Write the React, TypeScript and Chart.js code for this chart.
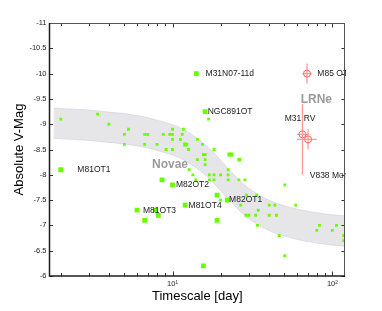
import { useEffect, useRef } from 'react';
import { Chart, registerables } from 'chart.js';

Chart.register(...registerables);

// ---- Data ----
// Novae band (MMRD-like relation), edges in absolute V magnitude
const bandT = [1.8, 2, 3, 4, 5, 6, 7, 8, 10, 12, 14, 16, 18, 20, 22, 25, 28, 32, 40, 50, 65, 80, 100, 130];
const bandUpper = [-9.32, -9.31, -9.28, -9.24, -9.21, -9.17, -9.13, -9.08, -8.99, -8.88, -8.74, -8.6, -8.44, -8.29, -8.14, -7.96, -7.81, -7.67, -7.5, -7.39, -7.3, -7.25, -7.21, -7.18];
const bandLower = [-8.72, -8.71, -8.68, -8.64, -8.61, -8.57, -8.53, -8.48, -8.39, -8.28, -8.14, -8.0, -7.84, -7.69, -7.54, -7.36, -7.21, -7.07, -6.9, -6.79, -6.7, -6.65, -6.61, -6.58];

// Novae (small green points)
const novaeT = [2.0, 3.4, 4.0, 5.3, 5.0, 5.0, 6.7, 7.0, 6.7, 8.0, 8.75, 9.1, 9.6, 10, 10, 10, 10, 11.2, 11.7, 11.5, 12.3, 12.6,
  16.8, 14.3, 15.4, 18.2, 15.6, 16.0, 14.3, 16.0, 16.0, 12.7, 13.4, 17, 18.2, 20, 17, 18.2, 14, 22.3, 22.3, 22.3, 26, 28.4,
  20, 26.7, 29, 33.6, 28.8, 30, 33.1, 34.4, 40.3, 43.7, 40.3, 44.7, 34, 46.5, 50.4, 59, 50.4, 80, 83, 100, 106, 117.6, 117.6];
const novaeMag = [-9.1, -9.2, -9.0, -8.9, -8.8, -8.6, -8.8, -8.8, -8.6, -8.6, -8.8, -8.5, -8.8, -8.8, -8.9, -8.7, -8.5, -8.7, -8.9, -8.8, -8.6, -8.5,
  -9.1, -8.7, -8.6, -8.5, -8.4, -8.4, -8.3, -8.3, -8.2, -8.1, -8.0, -8.0, -8.0, -8.0, -7.9, -7.9, -7.9, -8.1, -8.0, -7.9, -7.9, -7.9,
  -7.5, -7.4, -7.6, -7.6, -7.2, -7.2, -7.2, -7.3, -7.4, -7.4, -7.2, -7.2, -7.0, -6.8, -7.8, -7.4, -6.4, -6.9, -7.0, -6.9, -7.0, -6.8, -6.7];

// Medium squares
const mediumT = [12.0, 22.7, 23.4, 26.2];
const mediumMag = [-8.6, -8.4, -8.4, -8.3];

// Optical transients (big squares)
const transientT = [14.1, 16.0, 2.0, 8.6, 10, 12, 6.0, 7.8, 6.7, 8.15, 19, 22, 19, 15.6];
const transientMag = [-10.0, -9.25, -8.1, -7.9, -7.8, -7.4, -7.3, -7.3, -7.1, -7.2, -7.6, -7.5, -7.1, -6.2];

// LRNe with error bars
const lrneT = [69.4, 65, 70.5];
const lrneMag = [-10.0, -8.8, -8.7];
const lrneTLo = [65, 60, 60];
const lrneTHi = [74.5, 70.5, 80];
const lrneMagLo = [-10.2, -9.4, -8.9];
const lrneMagHi = [-9.8, -8.0, -8.5];

// Text labels (left edge position in data coords)
const labelText = ['M31N07-11d', 'NGC891OT', 'M81OT1', 'M82OT2', 'M81OT3', 'M81OT4', 'M82OT1', 'M85 OT', 'M31 RV', 'V838 Mon'];
const labelT = [16.1, 16.6, 2.54, 10.5, 6.54, 12.6, 22.6, 80.6, 50.4, 72.2];
const labelMag = [-10.0, -9.25, -8.1, -7.8, -7.3, -7.4, -7.5, -10.0, -9.1, -7.98];

const groupText = ['Novae', 'LRNe'];
const groupT = [7.44, 63.4];
const groupMag = [-8.19, -9.49];

const xTickValues = [2, 3, 4, 5, 6, 7, 8, 9, 10, 20, 30, 40, 50, 60, 70, 80, 90, 100];

const FONT = '"Liberation Sans", Arial, Helvetica, sans-serif';

const isPow10 = (v: number) => Math.abs(Math.log10(v) - Math.round(Math.log10(v))) < 1e-9;

const framePlugin = {
  id: 'frame',
  afterDraw(chart: any) {
    const { ctx, chartArea: a, scales } = chart;
    const x = scales.x;
    const y = scales.y;
    ctx.save();
    ctx.strokeStyle = '#333';
    ctx.lineWidth = 1;
    ctx.beginPath();
    for (const t of x.ticks) {
      const px = Math.round(x.getPixelForValue(t.value)) + 0.5;
      const len = isPow10(t.value) ? 4.5 : 3;
      ctx.moveTo(px, a.bottom);
      ctx.lineTo(px, a.bottom - len);
      ctx.moveTo(px, a.top);
      ctx.lineTo(px, a.top + len);
    }
    for (const t of y.ticks) {
      const py = Math.round(y.getPixelForValue(t.value)) + 0.5;
      ctx.moveTo(a.left, py);
      ctx.lineTo(a.left + 3.5, py);
      ctx.moveTo(a.right, py);
      ctx.lineTo(a.right - 3.5, py);
    }
    ctx.stroke();
    // top & right
    ctx.strokeStyle = '#555';
    ctx.lineWidth = 1;
    ctx.beginPath();
    ctx.moveTo(a.left, a.top + 0.5);
    ctx.lineTo(a.right, a.top + 0.5);
    ctx.moveTo(a.right - 0.5, a.top);
    ctx.lineTo(a.right - 0.5, a.bottom);
    ctx.stroke();
    // left & bottom
    ctx.strokeStyle = '#1e1e1e';
    ctx.lineWidth = 1.5;
    ctx.beginPath();
    ctx.moveTo(a.left, a.top);
    ctx.lineTo(a.left, a.bottom);
    ctx.lineTo(a.right, a.bottom);
    ctx.stroke();
    ctx.restore();
  },
};

const errorBarPlugin = {
  id: 'errorBars',
  afterDatasetsDraw(chart: any) {
    const { ctx, scales } = chart;
    const x = scales.x;
    const y = scales.y;
    ctx.save();
    ctx.strokeStyle = 'rgba(255,120,120,0.75)';
    ctx.lineWidth = 1.3;
    ctx.beginPath();
    for (let i = 0; i < lrneT.length; i++) {
      const cx = x.getPixelForValue(lrneT[i]);
      const cy = y.getPixelForValue(lrneMag[i]);
      ctx.moveTo(x.getPixelForValue(lrneTLo[i]), cy);
      ctx.lineTo(x.getPixelForValue(lrneTHi[i]), cy);
      ctx.moveTo(cx, y.getPixelForValue(lrneMagLo[i]));
      ctx.lineTo(cx, y.getPixelForValue(lrneMagHi[i]));
    }
    ctx.stroke();
    ctx.restore();
  },
};

const labelPlugin = {
  id: 'labels',
  afterDraw(chart: any) {
    const { ctx, chartArea: a, scales } = chart;
    const x = scales.x;
    const y = scales.y;
    ctx.save();
    ctx.beginPath();
    ctx.rect(a.left, a.top, a.right - a.left + 1, a.bottom - a.top);
    ctx.clip();
    ctx.textAlign = 'left';
    ctx.textBaseline = 'middle';
    ctx.fillStyle = '#1a1a1a';
    ctx.font = `8.5px ${FONT}`;
    for (let i = 0; i < labelText.length; i++) {
      ctx.fillText(labelText[i], x.getPixelForValue(labelT[i]), y.getPixelForValue(labelMag[i]));
    }
    ctx.fillStyle = '#9a9a9a';
    ctx.font = `bold 12px ${FONT}`;
    for (let i = 0; i < groupText.length; i++) {
      ctx.fillText(groupText[i], x.getPixelForValue(groupT[i]), y.getPixelForValue(groupMag[i]));
    }
    ctx.restore();
  },
};

export default function App() {
  const ref = useRef<HTMLCanvasElement>(null);

  useEffect(() => {
    const canvas = ref.current;
    if (!canvas) return;
    const pts = (xs: number[], ys: number[]) => xs.map((v, i) => ({ x: v, y: ys[i] }));
    const green = '#66ff00';
    const chart = new Chart(canvas, {
      type: 'scatter',
      data: {
        datasets: [
          {
            type: 'line',
            label: 'band upper',
            data: pts(bandT, bandUpper),
            borderColor: 'rgba(205,205,230,0.7)',
            borderWidth: 0.8,
            pointRadius: 0,
            fill: false,
            showLine: true,
            cubicInterpolationMode: 'monotone',
            order: 10,
          } as any,
          {
            type: 'line',
            label: 'band lower',
            data: pts(bandT, bandLower),
            borderColor: 'rgba(205,205,230,0.7)',
            borderWidth: 0.8,
            backgroundColor: '#e6e6e8',
            pointRadius: 0,
            fill: '-1',
            showLine: true,
            cubicInterpolationMode: 'monotone',
            order: 10,
          } as any,
          {
            label: 'Novae',
            data: pts(novaeT, novaeMag),
            pointStyle: 'rect',
            pointRadius: 2.0,
            backgroundColor: green,
            borderWidth: 0,
            order: 2,
          },
          {
            label: 'Medium',
            data: pts(mediumT, mediumMag),
            pointStyle: 'rect',
            pointRadius: 2.8,
            backgroundColor: green,
            borderWidth: 0,
            order: 2,
          },
          {
            label: 'Transients',
            data: pts(transientT, transientMag),
            pointStyle: 'rect',
            pointRadius: 3.4,
            backgroundColor: green,
            borderWidth: 0,
            order: 1,
          },
          {
            label: 'LRNe',
            data: pts(lrneT, lrneMag),
            pointStyle: 'circle',
            pointRadius: 3.5,
            backgroundColor: 'rgba(0,0,0,0)',
            borderColor: 'rgba(255,70,70,0.85)',
            borderWidth: 1,
            order: 0,
          },
        ],
      },
      options: {
        animation: false,
        responsive: false,
        devicePixelRatio: 1,
        layout: { padding: { top: 23, right: 37, left: 0, bottom: 0 } },
        plugins: {
          legend: { display: false },
          tooltip: { enabled: false },
        },
        scales: {
          x: {
            type: 'logarithmic',
            min: 1.7,
            max: 120,
            grid: { display: false, drawTicks: false },
            border: { display: false },
            afterBuildTicks: (s: any) => {
              s.ticks = xTickValues.map((v) => ({ value: v }));
            },
            afterFit: (s: any) => {
              s.height = 35;
            },
            ticks: {
              autoSkip: false,
              maxRotation: 0,
              padding: 3,
              color: '#222',
              font: { size: 7.5, family: FONT },
              callback: (v: any) => (v === 10 ? '10\u00B9' : v === 100 ? '10\u00B2' : ''),
            },
            title: {
              display: true,
              text: 'Timescale [day]',
              color: '#000',
              font: { size: 13, family: FONT },
              padding: { top: 0, bottom: 7 },
            },
          },
          y: {
            type: 'linear',
            min: -11,
            max: -6,
            reverse: true,
            grid: { display: false, drawTicks: false },
            border: { display: false },
            afterFit: (s: any) => {
              s.width = 49.5;
            },
            ticks: {
              stepSize: 0.5,
              padding: 3,
              color: '#222',
              font: { size: 7.5, family: FONT },
              callback: (v: any) => String(v),
            },
            title: {
              display: true,
              text: 'Absolute V-Mag',
              color: '#000',
              font: { size: 13, family: FONT },
              padding: { top: 12, bottom: 0 },
            },
          },
        },
      } as any,
      plugins: [errorBarPlugin, labelPlugin, framePlugin],
    });
    return () => chart.destroy();
  }, []);

  return (
    <div style={{ position: 'absolute', left: 0, top: 0, width: 382, height: 311, background: '#fff' }}>
      <canvas ref={ref} width={382} height={311} style={{ display: 'block', width: 382, height: 311 }} />
    </div>
  );
}
